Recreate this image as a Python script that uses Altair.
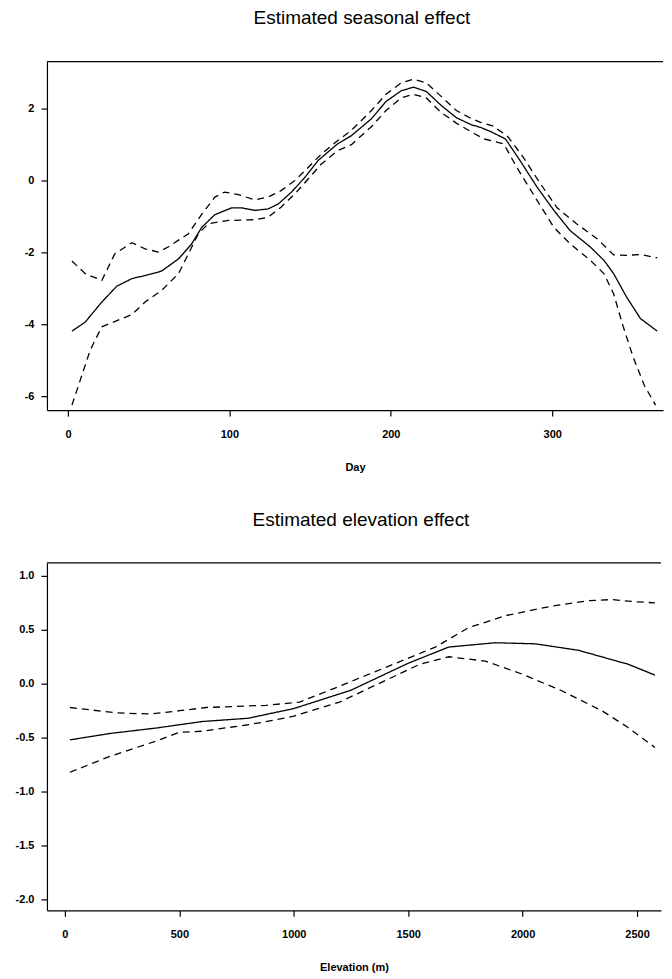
import altair as alt
import pandas as pd

# ---------------- Seasonal effect (Day) ----------------
season_fit_day = [2.5, 10.7, 21, 30.3, 39.6, 49.9, 58, 68.5, 76.7, 82.9, 91, 101.4, 107.6, 115.8,
                  124, 130.3, 138.5, 146.8, 155, 167, 175.6, 188, 197, 206.5, 214, 222, 231, 240.6,
                  250, 255.6, 262, 271, 280, 290.7, 301, 311, 323.6, 332, 338, 346, 354.6, 365]
season_fit = [-4.19, -3.94, -3.38, -2.94, -2.73, -2.62, -2.52, -2.18, -1.76, -1.30, -0.95, -0.76,
              -0.76, -0.83, -0.79, -0.65, -0.32, 0.09, 0.56, 1.02, 1.25, 1.72, 2.2, 2.5, 2.6, 2.48,
              2.1, 1.75, 1.55, 1.48, 1.36, 1.16, 0.56, -0.19, -0.83, -1.39, -1.85, -2.22, -2.59,
              -3.24, -3.84, -4.19]

season_upper_day = [2.5, 10.7, 21, 29, 39.6, 47.8, 56, 62, 74.6, 83, 91, 97, 105.6, 115.8, 124,
                    132, 140.6, 148.9, 157, 167, 175.6, 188, 197, 206.5, 214, 222, 231, 240.6, 250,
                    255.6, 263, 272, 282, 292.7, 303, 315, 327.8, 338, 346, 354.6, 365]
season_upper = [-2.24, -2.59, -2.78, -2.04, -1.73, -1.9, -1.99, -1.85, -1.48, -0.93, -0.46, -0.32,
                -0.39, -0.54, -0.46, -0.28, 0.0, 0.37, 0.74, 1.11, 1.4, 1.95, 2.4, 2.72, 2.82, 2.72,
                2.35, 1.95, 1.72, 1.62, 1.52, 1.25, 0.65, -0.09, -0.76, -1.2, -1.62, -2.07, -2.08,
                -2.06, -2.15]

season_lower_day = [2.5, 13.8, 21, 39.6, 47.8, 58, 68.5, 74.6, 80.8, 87, 99.4, 115.8, 124, 132,
                    140.6, 148.9, 157, 167, 175.6, 188, 197, 206.5, 214, 222, 231, 240.6, 250,
                    257.6, 270, 278, 290.7, 301, 311, 323.6, 332, 338, 344, 350, 357, 364]
season_lower = [-6.25, -4.72, -4.07, -3.73, -3.38, -3.06, -2.59, -2.04, -1.48, -1.2, -1.11, -1.09,
                -1.02, -0.74, -0.37, 0.05, 0.46, 0.83, 1.0, 1.5, 1.95, 2.3, 2.4, 2.3, 1.9, 1.6,
                1.35, 1.16, 1.02, 0.37, -0.56, -1.3, -1.76, -2.22, -2.59, -3.15, -4.07, -4.9,
                -5.7, -6.25]

day_ticks = [0, 100, 200, 300]
season_y_ticks = [-6, -4, -2, 0, 2]

# ---------------- Elevation effect ----------------
elev_fit_x = [22, 200, 400, 600, 800, 1000, 1250, 1500, 1677, 1880, 2055, 2244, 2462, 2578]
elev_fit = [-0.52, -0.46, -0.41, -0.35, -0.32, -0.23, -0.06, 0.19, 0.34, 0.38, 0.37, 0.31, 0.18,
            0.08]

elev_upper_x = [22, 225, 371, 502, 618, 880, 1025, 1180, 1400, 1619, 1764, 1924, 2128, 2288,
                2389, 2491, 2578]
elev_upper = [-0.22, -0.27, -0.28, -0.25, -0.22, -0.20, -0.17, -0.04, 0.15, 0.34, 0.52, 0.63,
              0.72, 0.77, 0.78, 0.76, 0.75]

elev_lower_x = [22, 200, 400, 500, 600, 800, 909, 1000, 1200, 1400, 1550, 1677, 1837, 1997,
                2171, 2346, 2450, 2578]
elev_lower = [-0.82, -0.67, -0.53, -0.45, -0.44, -0.38, -0.34, -0.30, -0.17, 0.03, 0.18, 0.25,
              0.21, 0.09, -0.065, -0.25, -0.39, -0.59]

elev_ticks = [0, 500, 1000, 1500, 2000, 2500]
elev_y_ticks = [-2.0, -1.5, -1.0, -0.5, 0.0, 0.5, 1.0]


def frame(xs, ys, name, xname):
    return pd.DataFrame({xname: xs, "value": ys, "series": name})


season_df = pd.concat([
    frame(season_fit_day, season_fit, "fit", "day"),
    frame(season_upper_day, season_upper, "upper", "day"),
    frame(season_lower_day, season_lower, "lower", "day"),
], ignore_index=True)

elev_df = pd.concat([
    frame(elev_fit_x, elev_fit, "fit", "elev"),
    frame(elev_upper_x, elev_upper, "upper", "elev"),
    frame(elev_lower_x, elev_lower, "lower", "elev"),
], ignore_index=True)

FONT = "Liberation Sans"
dash_scale = alt.Scale(domain=["fit", "upper", "lower"], range=[[1, 0], [7, 5], [7, 5]])

axis_common = dict(
    domainColor="black", domainWidth=1.2, tickColor="black", tickWidth=1.2, tickSize=6,
    labelColor="black", labelFont=FONT, labelFontSize=11, labelFontWeight="bold",
    titleColor="black", titleFont=FONT, titleFontSize=11, titleFontWeight="bold",
    grid=False,
)
minus_fix = "replace(datum.label, '\u2212', '-')"


def panel(df, xfield, xdomain, xticks, xtitle, ydomain, yticks, yfmt, yextent, W, H, title, toff):
    lines = alt.Chart(df).mark_line(color="black", strokeWidth=1.3).encode(
        x=alt.X(f"{xfield}:Q",
                scale=alt.Scale(domain=xdomain, nice=False, zero=False),
                axis=alt.Axis(values=xticks, title=xtitle, format="d", labelPadding=12,
                              titlePadding=22, labelExpr=minus_fix, **axis_common)),
        y=alt.Y("value:Q",
                scale=alt.Scale(domain=ydomain, nice=False, zero=False),
                axis=alt.Axis(values=yticks, title=None, format=yfmt, labelPadding=7,
                              minExtent=yextent, maxExtent=yextent, labelExpr=minus_fix,
                              **axis_common)),
        strokeDash=alt.StrokeDash("series:N", scale=dash_scale, legend=None),
        detail="series:N",
    )
    top_border = alt.Chart(alt.Data(values=[{}])).mark_rule(color="black", strokeWidth=1.2).encode(
        x=alt.value(0), x2=alt.value(W), y=alt.value(0)
    )
    return alt.layer(lines, top_border).properties(
        width=W, height=H,
        title=alt.TitleParams(title, font=FONT, fontSize=19, fontWeight="normal", color="black",
                              anchor="middle", frame="group", offset=toff, dx=7),
    )


W1, W2 = 617, 615
top = panel(season_df, "day", [-13, 368.6], day_ticks, "Day", [-6.39, 3.31], season_y_ticks,
            "d", 32, W1, 349, "Estimated seasonal effect", 33)
bottom = panel(elev_df, "elev", [-78.5, 2604.7], elev_ticks, "Elevation (m)", [-2.1, 1.12],
               elev_y_ticks, ".1f", 34, W2, 348, "Estimated elevation effect", 32)

chart = alt.vconcat(top, bottom, spacing=39).properties(
    padding={"left": 5, "top": 0, "right": 0, "bottom": 0},
    background="white",
).configure_view(stroke=None)

chart.save("out.html", embed_options={"renderer": "svg", "actions": False})
